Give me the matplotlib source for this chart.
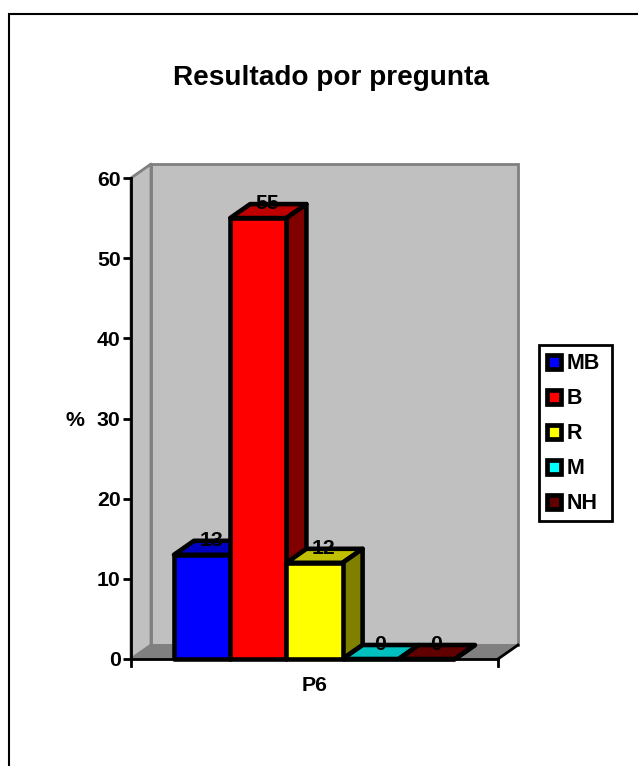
import matplotlib
matplotlib.use("Agg")
import matplotlib.pyplot as plt
from matplotlib.patches import Polygon, Rectangle
from matplotlib.transforms import ScaledTranslation

W, H = 638, 766
plt.rcParams['font.family'] = ['Liberation Sans', 'DejaVu Sans']

title = "Resultado por pregunta"
series = ["MB", "B", "R", "M", "NH"]
values = [13, 55, 12, 0, 0]
front = ["#0000FF", "#FF0000", "#FFFF00", "#00C0C0", "#600000"]
top = ["#0000C0", "#C00000", "#C0C000", "#00C0C0", "#600000"]
side = ["#000080", "#800000", "#808000", "#008080", "#400000"]
legend_cols = ["#0000FF", "#FF0000", "#FFFF00", "#00FFFF", "#600000"]
yticks = [0, 10, 20, 30, 40, 50, 60]
category = "P6"
ylabel = "%"

fig = plt.figure(figsize=(W / 100, H / 100), dpi=100, facecolor="white")

# page-pixel overlay used for the frame and legend
page = fig.add_axes([0, 0, 1, 1], zorder=0)
page.set_xlim(0, W); page.set_ylim(H, 0); page.axis("off")
page.plot([9, 9, W + 5], [H + 5, 14.3, 14.3], color="black", lw=1.5, solid_joinstyle="miter")

# plot axes: x in pixels of front plane, y in data units
X0, X1, Y0, Y60 = 131, 498, 659, 178
ax = fig.add_axes([X0 / W, 1 - Y0 / H, (X1 - X0) / W, (Y0 - Y60) / H], zorder=1)
ax.set_xlim(0, len(series) + 1.53)
ax.set_ylim(0, 60)
ax.patch.set_alpha(0)
for s in ("top", "right", "bottom"):
    ax.spines[s].set_visible(False)
ax.spines["left"].set_linewidth(2)
ax.spines["left"].set_zorder(2.6)
ax.set_xticks([])
ax.set_yticks(yticks)
ax.tick_params(axis="y", length=6, width=2, pad=1.5, labelsize=15.3)
for lab in ax.get_yticklabels():
    lab.set_fontweight("bold")

DX, DY = 20 / 100 * 72, 14 / 100 * 72   # depth offset, points
depth = ScaledTranslation(DX / 72, DY / 72, fig.dpi_scale_trans)
xmax = ax.get_xlim()[1]
grey, dark, edge = "#C0C0C0", "#808080", "#808080"


def back(x, y):
    """Data coordinates of the point behind (x, y) at full depth."""
    disp = ax.transData.transform((x, y)) + depth.get_matrix()[:2, 2]
    return tuple(ax.transData.inverted().transform(disp))


def add_quad(x0, y0, x1, y1, fc, ec, lw, z):
    ax.add_patch(Polygon([(x0, y0), (x1, y1), back(x1, y1), back(x0, y0)], closed=True,
                         fc=fc, ec=ec, lw=lw, clip_on=False, zorder=z, joinstyle="round"))


# back wall, side wall, floor
ax.add_patch(Rectangle((0, 0), xmax, 60, transform=ax.transData + depth, fc=grey, ec=edge,
                       lw=2, clip_on=False, zorder=1))
add_quad(0, 0, 0, 60, grey, edge, 2, 1.1)
add_quad(0, 0, xmax, 0, dark, edge, 1, 1.2)

bar_w = 1.0
start = 0.765
for i, (v, f, t, sd) in enumerate(zip(values, front, top, side)):
    x = start + i * bar_w
    z = 3 + i * 0.1
    add_quad(x, v, x + bar_w, v, t, "black", 3.3, z)
    add_quad(x + bar_w, 0, x + bar_w, v, sd, "black", 3.3, z)
    ax.add_patch(Rectangle((x, 0), bar_w, v, fc=f, ec="black", lw=3.3, clip_on=False,
                           zorder=z, joinstyle="round"))
    ax.annotate(str(v), (x + bar_w / 2, v), xytext=(6.6, 10.6), textcoords="offset points",
                ha="center", va="center", fontsize=15.3, fontweight="bold", color="black",
                zorder=8, annotation_clip=False)

# base line with end ticks and black corner
ax.plot([0, xmax], [0, 0], color="black", lw=2, clip_on=False, zorder=2.5)
ax.plot([xmax, xmax], [0, -0.9], color="black", lw=2, clip_on=False, zorder=2.5)
ax.plot([0, 0], [0, -0.9], color="black", lw=2, clip_on=False, zorder=2.5)
bx, by = back(xmax, 0)
ax.plot([xmax, bx], [0, by], color="black", lw=2, clip_on=False, zorder=2.5)

ax.text(xmax / 2, -3.3, category, ha="center", va="center", fontsize=15.3, fontweight="bold")
page.text(75, 420.5, ylabel, ha="center", va="center", fontsize=15.3, fontweight="bold")
page.text(331, 78, title, ha="center", va="center", fontsize=20.2, fontweight="bold")

# legend
page.add_patch(Rectangle((539, 345), 72.5, 175.5, fc="white", ec="black", lw=2, zorder=2))
for i, (name, c) in enumerate(zip(series, legend_cols)):
    yc = 362 + i * 34.9
    page.add_patch(Rectangle((554 - 7, yc - 7), 14, 14, fc=c, ec="black", lw=3.4, zorder=3))
    page.text(567, yc + 1.5, name, ha="left", va="center", fontsize=15.5, fontweight="bold", zorder=3)

fig.savefig("out.png", dpi=100)
